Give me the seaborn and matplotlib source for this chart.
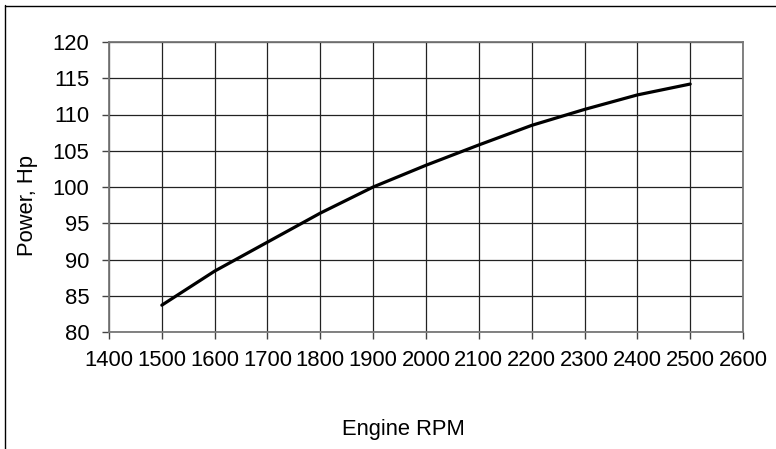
import matplotlib
matplotlib.use("Agg")
import matplotlib.pyplot as plt
from matplotlib.lines import Line2D
import seaborn as sns
import pandas as pd

rpm = [1500, 1600, 1700, 1800, 1900, 2000, 2100, 2200, 2300, 2400, 2500]
power = [83.7, 88.4, 92.4, 96.4, 100.0, 103.0, 105.8, 108.5, 110.7, 112.7, 114.2]
x_ticks = list(range(1400, 2700, 100))
y_ticks = list(range(80, 125, 5))

sns.set_theme(style="white")
plt.rcParams['font.family'] = ['Liberation Sans', 'DejaVu Sans']

df = pd.DataFrame({"rpm": rpm, "power": power})

fig = plt.figure(figsize=(7.76, 4.49), dpi=100)
ax = fig.add_axes([109/776, 1-332/449, (743-109)/776, (332-42)/449])

sns.lineplot(data=df, x="rpm", y="power", ax=ax, color="black", linewidth=2.3, zorder=3)

ax.set_xlim(1400, 2600)
ax.set_ylim(80, 120)
ax.set_xticks(x_ticks)
ax.set_yticks(y_ticks)
ax.set_xticklabels([str(v) for v in x_ticks], fontsize=15.8, color="black")
ax.set_yticklabels([str(v) for v in y_ticks], fontsize=15.8, color="black")
ax.grid(True, color="#222222", linewidth=0.9)
for s in ax.spines.values():
    s.set_color("#777777")
    s.set_linewidth(1.3)
ax.tick_params(axis="both", which="both", direction="out", length=5, width=1,
               color="#444444", labelcolor="black", bottom=True, left=True)
ax.tick_params(axis="x", pad=8)
ax.tick_params(axis="y", pad=9)
ax.set_xlabel("")
ax.set_ylabel("")

fig.text(403/776, 1-429/449, "Engine RPM", ha="center", va="center", fontsize=15.8, color="black")
fig.text(27/776, 1-205/449, "Power, Hp", ha="center", va="center", rotation=90, fontsize=15.8, color="black")

fig.add_artist(Line2D([4.5/776, 4.5/776], [0, 1-5/449], transform=fig.transFigure, color="black", linewidth=1))
fig.add_artist(Line2D([4.5/776, 1], [1-5.5/449, 1-5.5/449], transform=fig.transFigure, color="black", linewidth=1))

fig.savefig("out.png", dpi=100)
